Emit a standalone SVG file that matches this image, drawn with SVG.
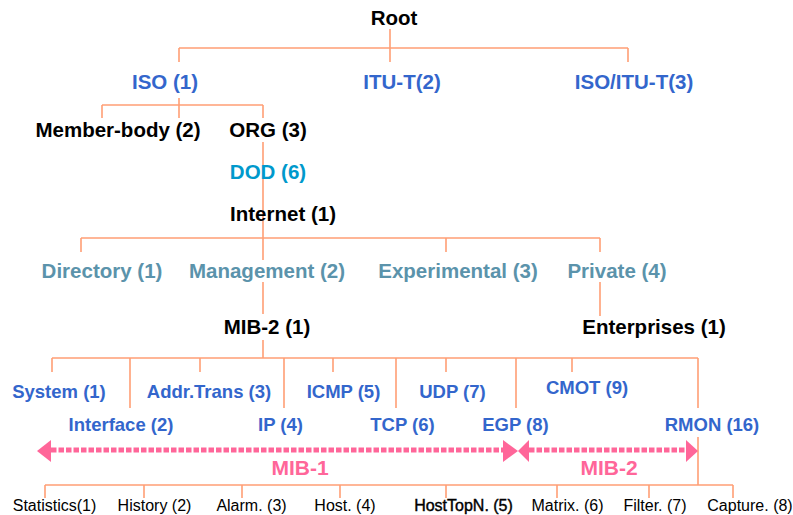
<svg xmlns="http://www.w3.org/2000/svg" width="793" height="515" viewBox="0 0 793 515">
<style>
text{font-family:"Liberation Sans",Arial,sans-serif;}
.b{font-weight:bold;font-size:20.5px;}
.s{font-weight:bold;font-size:18.5px;fill:#3366cc;}
.k{fill:#000;}
.blue{fill:#3366cc;}
.dod{fill:#0099cc;}
.teal{fill:#5b93ab;}
.leaf{font-size:16px;fill:#000;}
.mib{font-weight:bold;font-size:21px;fill:#ff6699;}
.c{fill:none;stroke:#ff9f75;stroke-width:1.6;}
.d{fill:none;stroke:#ff6699;stroke-width:5;stroke-dasharray:5.5 2;}
.h{fill:#ff6699;}
</style>
<rect width="793" height="515" fill="#fff"/>
<g id="connectors">
<path class="c" d="M390 29V62M179 48H628M179 48V62M628 48V62"/>
<path class="c" d="M179 98V118M102 105H263M102 105V118M263 105V118"/>
<path class="c" d="M263 142V260M81 238H600M81 238V252M446 238V252M600 238V252"/>
<path class="c" d="M263 282V314M600 282V316"/>
<path class="c" d="M263 340V358M52 358H698M52 358V372M130 358V408M200 358V372M284 358V408M333 358V372M396 358V408M446 358V372M516 358V408M572 358V372M698 358V408"/>
<path class="c" d="M698 437V485M45 485H733M45 485V498M144 485V498M242 485V498M340 485V498M446 485V498M557 485V498M649 485V498M733 485V498"/>
<g id="mib1-arrow">
<path class="d" d="M51 450H503"/>
<polygon class="h" points="37,451 51,440 51,462"/>
<polygon class="h" points="518,451 503,440 503,462"/>
</g>
<g id="mib2-arrow">
<path class="d" d="M529 450H686"/>
<polygon class="h" points="518,451 529,440 529,462"/>
<polygon class="h" points="698,451 686,440 686,462"/>
</g>
</g>
<g id="root"><text class="b k" x="394" y="25" text-anchor="middle">Root</text></g>
<g id="iso"><text class="b blue" x="165" y="89" text-anchor="middle">ISO (1)</text></g>
<g id="itu"><text class="b blue" x="402" y="89" text-anchor="middle">ITU-T(2)</text></g>
<g id="isoitu"><text class="b blue" x="634" y="89" text-anchor="middle">ISO/ITU-T(3)</text></g>
<g id="member"><text class="b k" x="118" y="137" text-anchor="middle">Member-body (2)</text></g>
<g id="org"><text class="b k" x="268" y="137" text-anchor="middle">ORG (3)</text></g>
<g id="dod"><text class="b dod" x="268" y="179" text-anchor="middle">DOD (6)</text></g>
<g id="internet"><text class="b k" x="283" y="221" text-anchor="middle">Internet (1)</text></g>
<g id="directory"><text class="b teal" x="102" y="278" text-anchor="middle">Directory (1)</text></g>
<g id="management"><text class="b teal" x="267" y="278" text-anchor="middle">Management (2)</text></g>
<g id="experimental"><text class="b teal" x="458" y="278" text-anchor="middle">Experimental (3)</text></g>
<g id="private"><text class="b teal" x="617" y="278" text-anchor="middle">Private (4)</text></g>
<g id="mib2"><text class="b k" x="267" y="334" text-anchor="middle">MIB-2 (1)</text></g>
<g id="enterprises"><text class="b k" x="654" y="334" text-anchor="middle">Enterprises (1)</text></g>
<g id="system"><text class="s" x="59" y="398" text-anchor="middle">System (1)</text></g>
<g id="addrtrans"><text class="s" x="209" y="398" text-anchor="middle">Addr.Trans (3)</text></g>
<g id="icmp"><text class="s" x="343.5" y="398" text-anchor="middle">ICMP (5)</text></g>
<g id="udp"><text class="s" x="452.5" y="398" text-anchor="middle">UDP (7)</text></g>
<g id="cmot"><text class="s" x="587" y="394" text-anchor="middle">CMOT (9)</text></g>
<g id="interface"><text class="s" x="121" y="431" text-anchor="middle">Interface (2)</text></g>
<g id="ip"><text class="s" x="280.5" y="431" text-anchor="middle">IP (4)</text></g>
<g id="tcp"><text class="s" x="402.5" y="431" text-anchor="middle">TCP (6)</text></g>
<g id="egp"><text class="s" x="515.5" y="431" text-anchor="middle">EGP (8)</text></g>
<g id="rmon"><text class="s" x="712" y="431" text-anchor="middle">RMON (16)</text></g>
<g id="mib1-label"><text class="mib" x="300" y="475" text-anchor="middle">MIB-1</text></g>
<g id="mib2-label"><text class="mib" x="609" y="475" text-anchor="middle">MIB-2</text></g>
<g id="statistics"><text class="leaf" x="54.5" y="511" text-anchor="middle">Statistics(1)</text></g>
<g id="history"><text class="leaf" x="154.5" y="511" text-anchor="middle">History (2)</text></g>
<g id="alarm"><text class="leaf" x="251.5" y="511" text-anchor="middle">Alarm. (3)</text></g>
<g id="host"><text class="leaf" x="345" y="511" text-anchor="middle">Host. (4)</text></g>
<g id="hosttopn"><text class="leaf" x="463.5" y="511" text-anchor="middle" stroke="#000" stroke-width="0.4">HostTopN. (5)</text></g>
<g id="matrix"><text class="leaf" x="567.5" y="511" text-anchor="middle">Matrix. (6)</text></g>
<g id="filter"><text class="leaf" x="655" y="511" text-anchor="middle">Filter. (7)</text></g>
<g id="capture"><text class="leaf" x="750" y="511" text-anchor="middle">Capture. (8)</text></g>
</svg>
